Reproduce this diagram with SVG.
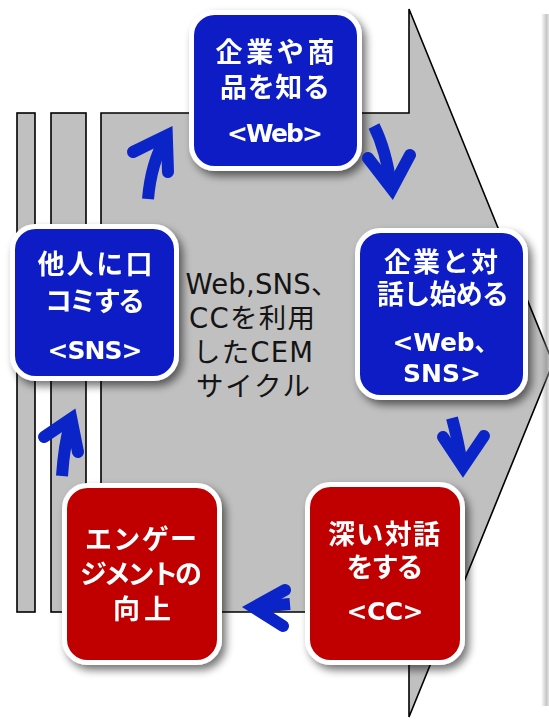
<svg xmlns="http://www.w3.org/2000/svg" width="549" height="721" viewBox="0 0 549 721">
<style>
.bg{fill:#c0c0c0;stroke:#000;stroke-width:1.6}
.nb{stroke:#fff;stroke-width:5}
.blue{fill:#0b1fc5}
.red{fill:#c00000}
.t{font-family:"DejaVu Sans","Noto Sans CJK JP",sans-serif;font-weight:bold;fill:#fff;text-anchor:middle;font-size:27px}
.l{font-size:25px}
.m{font-family:"DejaVu Sans","Noto Sans CJK JP",sans-serif;fill:#141414;text-anchor:middle;font-size:27.5px}
.sh{fill:none;stroke:#0a24c8;stroke-width:12;stroke-linecap:butt}
.hd{fill:none;stroke:#0a24c8;stroke-width:12;stroke-linecap:round;stroke-linejoin:miter;stroke-miterlimit:6}
</style>
<defs>
<filter id="ds" x="-20%" y="-20%" width="150%" height="150%">
<feGaussianBlur in="SourceAlpha" stdDeviation="4"/>
<feOffset dx="4" dy="5"/>
<feComponentTransfer><feFuncA type="linear" slope="0.55"/></feComponentTransfer>
<feMerge><feMergeNode/><feMergeNode in="SourceGraphic"/></feMerge>
</filter>
<linearGradient id="edge" x1="0" y1="0" x2="1" y2="0">
<stop offset="0" stop-color="#808080" stop-opacity="0"/>
<stop offset="0.7" stop-color="#808080" stop-opacity="0.45"/>
<stop offset="1" stop-color="#bbbbbb" stop-opacity="0.4"/>
</linearGradient>
</defs>
<rect width="549" height="721" fill="#fff"/>
<g id="background">
<rect class="bg" x="17" y="113" width="18" height="499"/>
<rect class="bg" x="51" y="113" width="35" height="499"/>
<path class="bg" d="M101,113 H409 V9 L553,363 L409,717 V612 H101 Z"/>
<rect x="541" y="14" width="8" height="692" fill="url(#edge)"/>
</g>
<g id="center-label">
<text class="m" x="262" y="294" textLength="153">Web,SNS、</text>
<text class="m" x="252" y="328" textLength="126">CCを利用</text>
<text class="m" x="253" y="362" textLength="120">したCEM</text>
<text class="m" x="253" y="396" textLength="114">サイクル</text>
</g>
<g id="node-know" filter="url(#ds)">
<rect class="nb blue" x="191.5" y="12.5" width="168" height="156" rx="23"/>
<text class="t" x="275" y="62" textLength="119">企業や商</text>
<text class="t" x="275" y="97" textLength="110">品を知る</text>
<text class="t l" x="275" y="142" textLength="96">&lt;Web&gt;</text>
</g>
<g id="node-talk" filter="url(#ds)">
<rect class="nb blue" x="357.5" y="230.5" width="168" height="167" rx="23"/>
<text class="t" x="441" y="272" textLength="114">企業と対</text>
<text class="t" x="443" y="304" textLength="132">話し始める</text>
<text class="t l" x="446" y="351" textLength="107">&lt;Web、</text>
<text class="t l" x="442" y="382" textLength="78">SNS&gt;</text>
</g>
<g id="node-deep" filter="url(#ds)">
<rect class="nb red" x="307.5" y="484.5" width="155" height="178" rx="23"/>
<text class="t" x="384" y="544" textLength="112">深い対話</text>
<text class="t" x="385" y="577" textLength="77">をする</text>
<text class="t l" x="385" y="620" textLength="77">&lt;CC&gt;</text>
</g>
<g id="node-engage" filter="url(#ds)">
<rect class="nb red" x="64.5" y="485.5" width="155" height="177" rx="23"/>
<text class="t" x="141" y="549" textLength="112">エンゲー</text>
<text class="t" x="141" y="584" textLength="122">ジメントの</text>
<text class="t" x="142" y="619" textLength="58">向上</text>
</g>
<g id="node-word" filter="url(#ds)">
<rect class="nb blue" x="12.5" y="226.5" width="164" height="152" rx="23"/>
<text class="t" x="95" y="274" textLength="115">他人に口</text>
<text class="t" x="95" y="311" textLength="100">コミする</text>
<text class="t l" x="95" y="359" textLength="95">&lt;SNS&gt;</text>
</g>
<g id="connectors">
<path class="sh" d="M148,199 Q151,163 166,137"/>
<path class="hd" d="M133,152 L166.8,135.4 L168,172"/>
<path class="sh" d="M374,126 Q386,150 391,186"/>
<path class="hd" d="M368,158 L391.9,188.9 L410,155"/>
<path class="sh" d="M452,418 Q458,440 462,465"/>
<path class="hd" d="M443,437 L463,467 L484,436"/>
<path class="sh" d="M290,604 L255,607"/>
<path class="hd" d="M285,590 L253.7,607.4 L283,626"/>
<path class="sh" d="M62,476 Q64,445 71,420"/>
<path class="hd" d="M44,437 L71.3,418.5 L78,452"/>
</g>
</svg>
